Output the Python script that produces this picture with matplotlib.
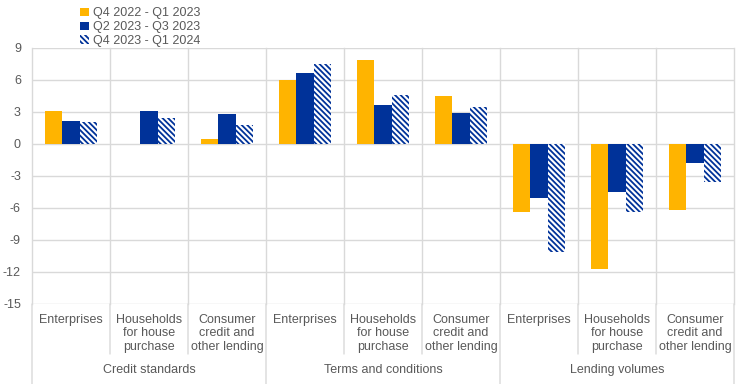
import matplotlib.pyplot as plt
from matplotlib.lines import Line2D
from matplotlib.patches import Patch

plt.rcParams['font.family'] = ['Liberation Sans', 'DejaVu Sans']
plt.rcParams['hatch.linewidth'] = 1.3

groups = ['Credit standards', 'Terms and conditions', 'Lending volumes']
categories = ['Enterprises', 'Households\nfor house\npurchase', 'Consumer\ncredit and\nother lending'] * 3
series_names = ['Q4 2022 - Q1 2023', 'Q2 2023 - Q3 2023', 'Q4 2023 - Q1 2024']
q4_22 = [3.1, 0.0, 0.5, 6.0, 7.9, 4.5, -6.4, -11.7, -6.2]
q2_23 = [2.2, 3.1, 2.8, 6.65, 3.7, 2.9, -5.1, -4.5, -1.8]
q4_23 = [2.1, 2.45, 1.75, 7.5, 4.6, 3.5, -10.1, -6.4, -3.6]
yticks = [-15, -12, -9, -6, -3, 0, 3, 6, 9]

yellow = '#FFB400'
blue = '#003299'
grid = '#D9D9D9'
txt = '#595959'
hatch = '\\' * 6

fig = plt.figure(figsize=(7.44, 3.84), dpi=100)
ax = fig.add_axes([32 / 744, 80 / 384, 702 / 744, 256 / 384])

w = 0.22
for i in range(len(categories)):
    c = i + 0.5
    ax.bar(c - w, q4_22[i], w, color=yellow, zorder=3)
    ax.bar(c, q2_23[i], w, color=blue, zorder=3)
    ax.bar(c + w, q4_23[i], w, color='white', edgecolor=blue, hatch=hatch,
           linewidth=0, zorder=3)

ax.set_xlim(0, 9)
ax.set_ylim(-15, 9)
ax.set_yticks(yticks)
ax.set_yticklabels([str(t) for t in yticks], color=txt, fontsize=9)
ax.tick_params(axis='y', length=0, pad=8)
ax.set_xticks([])
for s in ax.spines.values():
    s.set_visible(False)
for t in yticks:
    ax.axhline(t, color=grid, lw=1, zorder=1)

# vertical separators, extending into the label area
for k in range(10):
    bottom = -80 if k % 3 == 0 else -50
    ax.add_line(Line2D([k, k], [0, 1], transform=ax.get_xaxis_transform(),
                       color=grid, lw=1, zorder=1, clip_on=False))
    ax.annotate('', xy=(k, 0), xycoords=('data', 'axes fraction'),
                xytext=(0, bottom), textcoords='offset pixels',
                arrowprops=dict(arrowstyle='-', color=grid, lw=1,
                                shrinkA=0, shrinkB=0))

for i, lab in enumerate(categories):
    ax.annotate(lab, xy=(i + 0.5, 0), xycoords=('data', 'axes fraction'),
                xytext=(0, -10), textcoords='offset pixels',
                ha='center', va='top', fontsize=9, color=txt, linespacing=1.15)
for g, lab in enumerate(groups):
    ax.annotate(lab, xy=(g * 3 + 1.5, 0), xycoords=('data', 'axes fraction'),
                xytext=(0, -60), textcoords='offset pixels',
                ha='center', va='top', fontsize=9, color=txt)

handles = [Patch(facecolor=yellow), Patch(facecolor=blue),
           Patch(facecolor='white', edgecolor=blue, hatch=hatch, linewidth=0)]
fig.legend(handles, series_names, loc='upper left', bbox_to_anchor=(69 / 744, 1.01),
           frameon=False, fontsize=9, labelcolor=txt, handlelength=0.7,
           handleheight=0.7, handletextpad=0.3, labelspacing=0.15)

fig.savefig('out.png', dpi=100)
